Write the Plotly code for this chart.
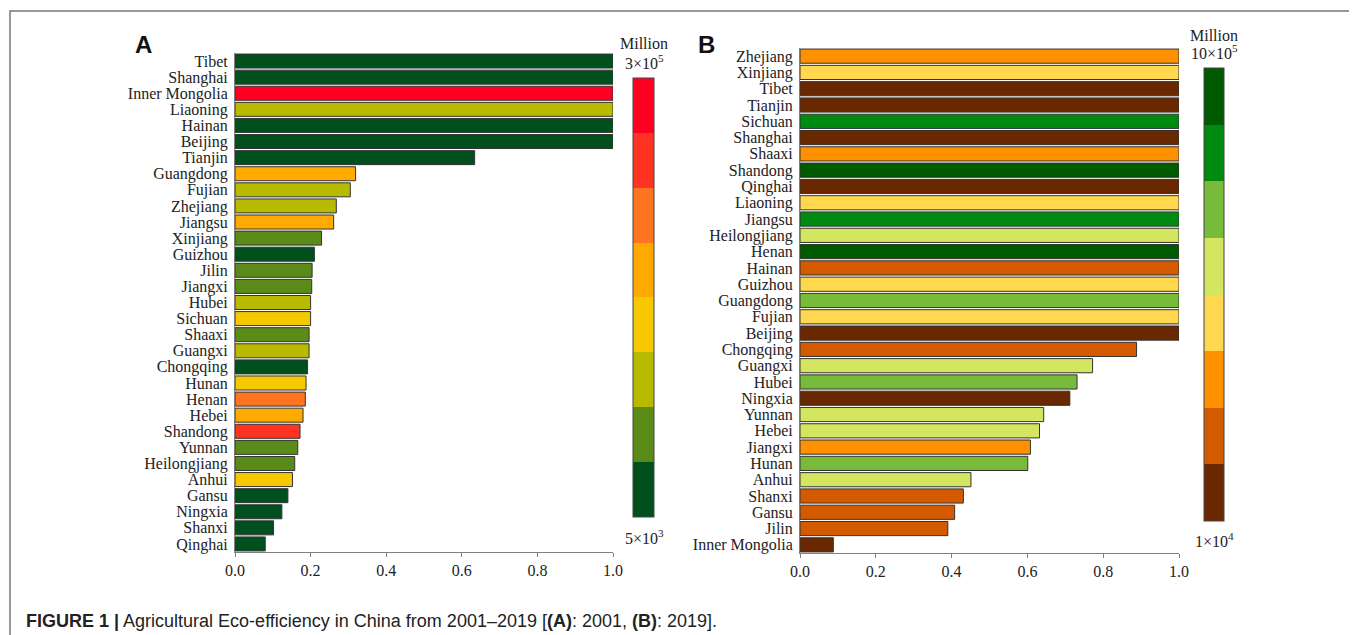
import plotly.graph_objects as go

W, H = 1357, 635
OFF = 8  # the page places the figure 8px from the top-left corner

# ---------------- data ----------------
prov_A = ["Tibet", "Shanghai", "Inner Mongolia", "Liaoning", "Hainan", "Beijing", "Tianjin",
          "Guangdong", "Fujian", "Zhejiang", "Jiangsu", "Xinjiang", "Guizhou", "Jilin", "Jiangxi",
          "Hubei", "Sichuan", "Shaaxi", "Guangxi", "Chongqing", "Hunan", "Henan", "Hebei",
          "Shandong", "Yunnan", "Heilongjiang", "Anhui", "Gansu", "Ningxia", "Shanxi", "Qinghai"]
eff_A = [1, 1, 1, 1, 1, 1, 0.634, 0.319, 0.305, 0.268, 0.261, 0.229, 0.210, 0.204, 0.203,
         0.200, 0.200, 0.196, 0.196, 0.192, 0.188, 0.186, 0.180, 0.172, 0.166, 0.158, 0.152,
         0.140, 0.124, 0.102, 0.080]
class_A = [1, 1, 8, 3, 1, 1, 1, 5, 3, 3, 5, 2, 1, 2, 2, 3, 4, 2, 3, 1, 4, 6, 5, 7, 2, 2, 4,
           1, 1, 1, 1]
colors_A = ["#00501E", "#5A8A18", "#B8BA00", "#F5C800", "#FFAA00", "#FF7420", "#FF3322", "#FF0022"]

prov_B = ["Zhejiang", "Xinjiang", "Tibet", "Tianjin", "Sichuan", "Shanghai", "Shaaxi", "Shandong",
          "Qinghai", "Liaoning", "Jiangsu", "Heilongjiang", "Henan", "Hainan", "Guizhou",
          "Guangdong", "Fujian", "Beijing", "Chongqing", "Guangxi", "Hubei", "Ningxia", "Yunnan",
          "Hebei", "Jiangxi", "Hunan", "Anhui", "Shanxi", "Gansu", "Jilin", "Inner Mongolia"]
eff_B = [1, 1, 1, 1, 1, 1, 1, 1, 1, 1, 1, 1, 1, 1, 1, 1, 1, 1,
         0.888, 0.772, 0.731, 0.712, 0.643, 0.632, 0.608, 0.601, 0.451, 0.431, 0.408, 0.390, 0.088]
class_B = [3, 4, 1, 1, 7, 1, 3, 8, 1, 4, 7, 5, 8, 2, 4, 6, 4, 1, 2, 5, 6, 1, 5, 5, 3, 6, 5,
           2, 2, 2, 1]
colors_B = ["#6A2800", "#D45A00", "#FF9000", "#FFD850", "#D4E560", "#78BA3A", "#008A10", "#005A00"]

x_ticks = [0.0, 0.2, 0.4, 0.6, 0.8, 1.0]
cbar_A = ("Million", "3×10<sup>5</sup>", "5×10<sup>3</sup>")
cbar_B = ("Million", "10×10<sup>5</sup>", "1×10<sup>4</sup>")
caption = ("<b>FIGURE 1 |</b> Agricultural Eco-efficiency in China from 2001–2019 "
           "[<b>(A)</b>: 2001, <b>(B)</b>: 2019].")


def discrete_scale(cols):
    n = len(cols)
    out = []
    for i, c in enumerate(cols):
        out.append([i / n, c])
        out.append([(i + 1) / n, c])
    return out


def px(x):
    return (x - OFF) / W


def py(y):
    return 1 - (y - OFF) / H


SERIF = "Liberation Serif, Times New Roman, serif"
SANS = "Liberation Sans, Arial, sans-serif"

fig = go.Figure()
fig.add_trace(go.Bar(x=eff_A, y=prov_A, orientation="h",
                     marker=dict(color=class_A, coloraxis="coloraxis",
                                 line=dict(color="#333333", width=1)),
                     xaxis="x", yaxis="y", showlegend=False))
fig.add_trace(go.Bar(x=eff_B, y=prov_B, orientation="h",
                     marker=dict(color=class_B, coloraxis="coloraxis2",
                                 line=dict(color="#333333", width=1)),
                     xaxis="x2", yaxis="y2", showlegend=False))

xcommon = dict(showgrid=False, zeroline=False, linecolor="#808080", linewidth=1,
               range=[0, 1], tickmode="array", tickvals=x_ticks, tickformat=".1f",
               ticks="outside", ticklen=4, tickcolor="#808080", showline=True,
               automargin=False, tickfont=dict(family=SERIF, size=16, color="#222"))
ycommon = dict(showgrid=False, zeroline=False, linecolor="#808080", linewidth=1,
               autorange="reversed", type="category", showline=True, ticks="",
               automargin=False, ticklabelstandoff=3,
               tickfont=dict(family=SERIF, size=16, color="#222"))

fig.update_layout(
    width=W, height=H, margin=dict(l=0, r=0, t=0, b=0, pad=0, autoexpand=False),
    paper_bgcolor="white", plot_bgcolor="white", bargap=0.13,
    xaxis=dict(domain=[px(235), px(613)], anchor="y", **xcommon),
    yaxis=dict(domain=[py(552), py(53)], anchor="x", tickvals=prov_A, **ycommon),
    xaxis2=dict(domain=[px(800), px(1179)], anchor="y2", **xcommon),
    yaxis2=dict(domain=[py(553), py(48)], anchor="x2", tickvals=prov_B, **ycommon),
    coloraxis=dict(colorscale=discrete_scale(colors_A), cmin=0.5, cmax=8.5,
                   colorbar=dict(x=px(633), xanchor="left", y=py(78), yanchor="top",
                                 thickness=21, thicknessmode="pixels",
                                 len=439, lenmode="pixels", xpad=0, ypad=0,
                                 outlinewidth=1, outlinecolor="#444",
                                 showticklabels=False, ticks="")),
    coloraxis2=dict(colorscale=discrete_scale(colors_B), cmin=0.5, cmax=8.5,
                    colorbar=dict(x=px(1204), xanchor="left", y=py(68), yanchor="top",
                                  thickness=20, thicknessmode="pixels",
                                  len=453, lenmode="pixels", xpad=0, ypad=0,
                                  outlinewidth=1, outlinecolor="#444",
                                  showticklabels=False, ticks="")),
)

ann = []
# panel letters
ann.append(dict(x=px(143), y=py(45), text="<b>A</b>", font=dict(family=SANS, size=24, color="#111")))
ann.append(dict(x=px(706), y=py(45), text="<b>B</b>", font=dict(family=SANS, size=24, color="#111")))
# colorbar labels
cb_font = dict(family=SERIF, size=16, color="#222")
ann.append(dict(x=px(644), y=py(44), text=cbar_A[0], font=cb_font))
ann.append(dict(x=px(644), y=py(62), text=cbar_A[1], font=cb_font))
ann.append(dict(x=px(644), y=py(537), text=cbar_A[2], font=cb_font))
ann.append(dict(x=px(1214), y=py(35), text=cbar_B[0], font=cb_font))
ann.append(dict(x=px(1214), y=py(52), text=cbar_B[1], font=cb_font))
ann.append(dict(x=px(1214), y=py(540), text=cbar_B[2], font=cb_font))
for a in ann:
    a.update(xref="paper", yref="paper", showarrow=False, xanchor="center", yanchor="middle")
# caption
ann.append(dict(x=px(24), y=py(621), xref="paper", yref="paper", showarrow=False,
                xanchor="left", yanchor="middle", text=caption,
                font=dict(family=SANS, size=18, color="#222")))
fig.update_layout(annotations=ann)

# outer frame (open at the bottom)
frame = dict(type="path", xref="paper", yref="paper",
             path=f"M {px(10)} -0.05 L {px(10)} {py(11)} L {px(1354)} {py(11)} L {px(1354)} -0.05",
             line=dict(color="#777777", width=1.5))
fig.update_layout(shapes=[frame])

fig.write_html("out.html")
